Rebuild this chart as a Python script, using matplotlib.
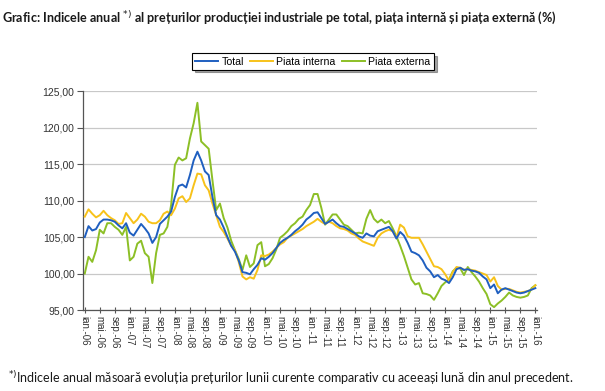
import matplotlib
matplotlib.use("Agg")
import matplotlib.pyplot as plt
import numpy as np

# luni: ian-06 ... ian-16
years = list(range(6, 17))
month_names = ["ian.", "feb.", "mar.", "apr.", "mai.", "iun.", "iul.", "aug.", "sep.", "oct.", "nov.", "dec."]
months = [f"{month_names[i % 12]}-{years[i // 12]:02d}" for i in range(121)]

total = [
    105.0, 106.5, 105.9, 106.1, 107.0, 107.4, 107.4, 107.3, 107.1, 106.6, 106.2, 106.9,
    105.6, 105.2, 106.0, 106.8, 106.2, 105.5, 104.2, 105.0, 106.8, 107.3, 107.8, 108.5,
    110.5, 112.0, 112.2, 111.8, 113.5, 115.5, 116.7, 115.5, 114.0, 113.5, 110.5, 108.0,
    107.4, 106.3, 105.0, 103.8, 103.0, 101.8, 100.2, 100.1, 99.9, 100.6, 101.2, 102.1,
    101.9, 102.3, 102.8, 103.5, 104.2, 104.6, 104.9, 105.3, 105.8, 106.2, 106.7, 107.4,
    107.8, 108.3, 108.4, 107.6, 106.8, 107.1, 107.4, 106.9, 106.5, 106.4, 106.1, 105.8,
    105.5, 105.1, 104.9, 105.5, 105.2, 105.1, 105.8, 106.0, 106.2, 106.4, 105.8, 104.8,
    105.7, 105.2, 104.2, 103.0, 102.8, 102.5, 101.8, 100.8, 100.3, 99.5, 99.8, 99.3,
    99.1, 98.7, 99.5, 100.6, 100.8, 100.5, 100.6, 100.4, 100.3, 100.1, 99.6, 99.2,
    98.0, 98.5, 97.3, 97.8, 98.0, 97.8, 97.6, 97.4, 97.3, 97.4, 97.6, 97.8,
    98.0,
]

interna = [
    107.8, 108.8, 108.2, 107.7, 108.0, 108.6, 108.0, 107.6, 107.3, 106.8, 106.9, 108.3,
    107.6, 106.9, 107.4, 108.2, 107.8, 107.1, 106.9, 106.9, 107.3, 108.2, 108.5, 108.0,
    108.9, 110.3, 110.6, 109.8, 110.3, 112.1, 113.7, 113.6, 112.1, 111.4, 109.6, 108.0,
    106.4, 105.7, 104.8, 103.8, 103.2, 101.6, 99.6, 99.2, 99.5, 99.3, 100.5, 102.5,
    102.4, 102.6, 103.0, 103.5, 104.0, 104.3, 104.9, 105.2, 105.5, 105.8, 106.1, 106.5,
    106.8, 107.1, 107.5, 107.1, 106.8, 107.1, 106.9, 106.5, 106.2, 106.1, 105.9, 105.5,
    105.3, 104.8, 104.4, 104.2, 104.0, 103.8, 104.9, 105.5, 105.8, 106.0, 105.8, 104.9,
    106.7, 106.3, 105.1, 104.9, 104.9, 104.9, 104.0, 103.0, 102.0, 101.0, 100.9, 100.6,
    99.9, 99.0, 100.2, 100.9, 100.8, 100.5, 100.6, 100.5, 100.4, 100.2, 100.0, 99.8,
    98.9, 99.5, 98.3, 97.8, 97.9, 97.9, 97.7, 97.5, 97.4, 97.5, 97.6, 97.8,
    98.4,
]

externa = [
    100.0, 102.3, 101.6, 103.2, 106.0, 105.5, 106.9, 106.9, 106.4, 106.0, 105.3, 106.4,
    101.8, 102.3, 104.1, 104.5, 102.8, 102.3, 98.7, 102.8, 105.3, 105.5, 106.4, 109.4,
    114.9, 115.9, 115.5, 115.8, 118.5, 120.6, 123.4, 118.1, 117.6, 117.1, 112.8, 108.7,
    109.6, 107.6, 106.3, 104.5, 103.2, 102.0, 100.5, 102.5, 100.9, 101.4, 103.9, 104.3,
    101.0, 101.3, 102.1, 103.3, 104.9, 105.3, 105.8, 106.5, 106.9, 107.5, 107.8, 108.7,
    109.4, 110.9, 110.9, 109.0, 106.7, 107.4, 108.1, 108.1, 107.4, 106.7, 106.5, 106.0,
    105.5, 105.6, 105.5, 107.5, 108.7, 107.5, 107.0, 107.4, 106.9, 107.2, 106.2, 105.1,
    103.8, 102.4, 100.8, 99.2, 98.5, 98.7, 97.3, 97.2, 97.0, 96.4, 97.3, 98.3,
    98.8, 99.2, 100.3, 100.8, 100.7, 99.8, 100.9, 100.2, 99.6, 98.9, 98.0, 97.2,
    95.8, 95.4, 95.9, 96.3, 96.8, 97.4, 97.0, 96.8, 96.7, 96.8, 97.0, 98.0,
    98.4,
]

y_ticks = [95, 100, 105, 110, 115, 120, 125]

fig = plt.figure(figsize=(6.05, 3.91), dpi=100)
ax = fig.add_axes([0.137, 0.207, 0.751, 0.560])

x = np.arange(len(months))
ax.plot(x, total, color="#1f5fc0", lw=1.4, label="Total", zorder=4)
ax.plot(x, interna, color="#f7c21a", lw=1.4, label="Piata interna", zorder=3)
ax.plot(x, externa, color="#8cbf26", lw=1.4, label="Piata externa", zorder=2)

ax.set_xlim(-0.5, 120.5)
ax.set_ylim(95, 125)
ax.set_yticks(y_ticks)
ax.set_yticklabels([f"{v:.2f}".replace(".", ",") for v in y_ticks],
                   fontsize=7.5, family="Liberation Sans", color="#333333")
ax.set_xticks(x[::4])
ax.set_xticklabels(months[::4], rotation=270, fontsize=7, family="Liberation Sans",
                   color="#333333")
ax.tick_params(axis="x", direction="inout", length=5, width=0.8, color="#555555", pad=2)
ax.tick_params(axis="y", direction="out", length=4, width=0.8, color="#555555", pad=2)
ax.grid(axis="y", color="#c8c8c8", lw=0.9)
ax.set_axisbelow(True)
for s in ["top", "right"]:
    ax.spines[s].set_visible(False)
for s in ["left", "bottom"]:
    ax.spines[s].set_color("#555555")
    ax.spines[s].set_linewidth(0.9)

leg = ax.legend(loc="center", bbox_to_anchor=(0.506, 1.135), ncol=3, frameon=True,
                fancybox=False, shadow=True, handlelength=2.2, handletextpad=0.3,
                columnspacing=0.6, borderpad=0.3, prop={"family": "Liberation Sans", "size": 7.6})
leg.get_frame().set_edgecolor("#000000")
leg.get_frame().set_linewidth(0.8)

fig.text(0.004, 0.975, "Grafic: Indicele anual $^{*)}$ al prețurilor producției industriale pe total, "
         "piața internă și piața externă (%)", fontsize=9.1, fontweight="bold",
         family="Lato", ha="left", va="top", color="#1a1a1a")
fig.text(0.013, 0.033, "$^{*)}$Indicele anual măsoară evoluția prețurilor lunii curente comparativ "
         "cu aceeași lună din anul precedent.", fontsize=9, family="Lato",
         ha="left", va="center", color="#1a1a1a")

fig.savefig("out.png", dpi=100)
